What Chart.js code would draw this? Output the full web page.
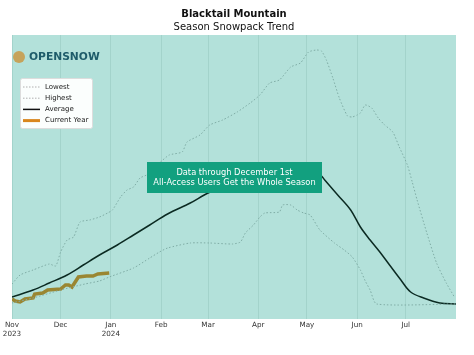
<!DOCTYPE html>
<html>
<head>
<meta charset="utf-8">
<script src="https://cdn.jsdelivr.net/npm/chart.js@4.4.1/dist/chart.umd.min.js"></script>
<style>
  html, body { margin: 0; padding: 0; background: #ffffff; }
  #wrap { width: 474px; height: 355px; position: relative; }
</style>
</head>
<body>
<div id="wrap"><canvas id="c" width="474" height="355"></canvas></div>
<script>
// ---- data (day offsets from Nov 1 2023, snow depth values) ----
const monthTickDays = [0, 30, 61, 92, 121, 152, 182, 213, 243];
const monthTickLabels = [['Nov', '2023'], 'Dec', ['Jan', '2024'], 'Feb', 'Mar', 'Apr', 'May', 'Jun', 'Jul'];

const lowestDays = [0, 13, 30, 45, 54, 60, 75, 85, 91, 96, 110, 122, 136, 141, 144, 149, 153, 156, 165, 167, 172, 176, 180, 184, 190, 199, 205, 210, 215, 218, 221, 225, 274];
const lowestVals = [0.6, 3.6, 8.4, 12, 13.8, 16.2, 21.6, 27.6, 31.2, 33.6, 36.6, 36.6, 36, 37.2, 42.6, 47.4, 52.2, 54.6, 55.2, 59.4, 59.4, 56.4, 54.6, 53.4, 44.4, 36.6, 32.4, 28.2, 20.4, 13.8, 8.4, 0, 0];

const highestDays = [0, 5, 13, 23, 27, 30, 34, 38, 42, 48, 54, 59, 62, 67, 71, 75, 79, 83, 91, 97, 105, 108, 116, 122, 130, 139, 147, 153, 159, 165, 172, 178, 183, 188, 191, 194, 198, 202, 207, 210, 213, 215, 218, 222, 226, 230, 235, 239, 244, 247, 250, 256, 262, 268, 273];
const highestVals = [12, 17.4, 20.4, 24, 22.8, 31.2, 38.4, 40.2, 49.2, 50.4, 52.2, 54.6, 56.4, 64.2, 68.4, 70.2, 75.6, 77.4, 84.6, 89.4, 91.2, 97.2, 101.4, 107.4, 110.4, 115.2, 120.6, 125.4, 132.6, 134.4, 142.2, 144.6, 151.2, 152.4, 151.8, 146.4, 135.6, 123.6, 112.8, 112.2, 113.4, 114.6, 119.4, 117.6, 111.6, 107.4, 103.2, 94.2, 83.4, 73.2, 62.4, 42.6, 24.6, 12.6, 4.2];

const averageDays = [0, 13, 23, 34, 44, 54, 65, 75, 85, 96, 110, 121, 135, 153, 168, 178, 187, 191, 193, 201, 209, 215, 221, 227, 233, 240, 246, 254, 264, 274];
const averageVals = [4.2, 8.4, 12.6, 17.4, 23.4, 29.4, 35.4, 41.4, 47.4, 54, 60.6, 66.6, 72, 79, 83.4, 82.8, 79.8, 76.8, 74.4, 65.4, 56.4, 46.2, 38.4, 31.2, 23.4, 14.4, 7.2, 3.6, 0.6, 0];

const currentDays = [0, 2, 5, 8, 13, 14, 19, 22, 30, 33, 35, 37, 41, 46, 50, 53, 60];
const currentVals = [3, 1.8, 1.2, 3, 3.6, 6, 6.6, 8.4, 9, 11.4, 11.4, 10.2, 16.2, 16.8, 16.8, 18, 18.6];

const seriesNames = ['Lowest', 'Highest', 'Average', 'Current Year'];
const titleText = 'Blacktail Mountain';
const subtitleText = 'Season Snowpack Trend';
const noticeLines = ['Data through December 1st', 'All-Access Users Get the Whole Season'];
const logoText = 'OPENSNOW';

function pts(days, vals) { return days.map((d, i) => ({ x: d, y: vals[i] })); }

const FONT = "'DejaVu Sans', sans-serif";
const DOT = '#80ada6';

const bgPlugin = {
  id: 'plotBg',
  beforeDraw(chart) {
    const { ctx, chartArea: a } = chart;
    ctx.save();
    ctx.fillStyle = '#b3e1da';
    ctx.fillRect(a.left, a.top, a.right - a.left, a.bottom - a.top);
    ctx.restore();
  }
};

const overlayPlugin = {
  id: 'overlay',
  afterDraw(chart) {
    const { ctx, chartArea: a } = chart;
    ctx.save();
    // logo
    const ly = a.top + 22;
    ctx.fillStyle = '#c6a35b';
    ctx.beginPath(); ctx.arc(a.left + 7, ly, 6, 0, Math.PI * 2); ctx.fill();
    ctx.fillStyle = '#1e5c6a';
    ctx.font = 'bold 10.7px ' + FONT;
    ctx.textBaseline = 'middle';
    ctx.textAlign = 'left';
    ctx.fillText(logoText, a.left + 17, ly);

    // legend
    const lx = a.left + 8, ly0 = a.top + 43, lw = 72, lh = 50;
    ctx.fillStyle = 'rgba(255,255,255,0.95)';
    ctx.strokeStyle = '#dddddd';
    ctx.lineWidth = 1;
    ctx.beginPath();
    if (ctx.roundRect) ctx.roundRect(lx + 0.5, ly0 + 0.5, lw, lh, 2); else ctx.rect(lx + 0.5, ly0 + 0.5, lw, lh);
    ctx.fill(); ctx.stroke();
    const styles = [
      { c: '#b0b0b0', w: 1, dash: [1.5, 1.5] },
      { c: '#b0b0b0', w: 1, dash: [1.5, 1.5] },
      { c: '#111111', w: 1.5, dash: [] },
      { c: '#d9861e', w: 3, dash: [] }
    ];
    ctx.font = '7px ' + FONT;
    seriesNames.forEach((n, i) => {
      const y = ly0 + 9 + i * 11.2;
      const s = styles[i];
      ctx.strokeStyle = s.c; ctx.lineWidth = s.w; ctx.setLineDash(s.dash);
      ctx.beginPath(); ctx.moveTo(lx + 3, y); ctx.lineTo(lx + 20, y); ctx.stroke();
      ctx.setLineDash([]);
      ctx.fillStyle = '#222222';
      ctx.fillText(n, lx + 25, y);
    });

    // notice box
    const cx = (a.left + a.right) / 2 + 0.5;
    const bw = 175, bh = 31, by = a.top + 127;
    ctx.fillStyle = '#12a07f';
    ctx.fillRect(cx - bw / 2, by, bw, bh);
    ctx.fillStyle = '#ffffff';
    ctx.textAlign = 'center';
    ctx.font = '8.3px ' + FONT;
    ctx.fillText(noticeLines[0], cx, by + 10.5);
    ctx.fillText(noticeLines[1], cx, by + 21);
    ctx.restore();
  }
};

new Chart(document.getElementById('c'), {
  type: 'line',
  data: {
    datasets: [
      { label: seriesNames[0], data: pts(lowestDays, lowestVals), borderColor: DOT, borderWidth: 1, borderDash: [1.5, 2], pointRadius: 0, tension: 0.2 },
      { label: seriesNames[1], data: pts(highestDays, highestVals), borderColor: DOT, borderWidth: 1, borderDash: [1.5, 2], pointRadius: 0, tension: 0.2 },
      { label: seriesNames[2], data: pts(averageDays, averageVals), borderColor: '#0b2a22', borderWidth: 1.5, pointRadius: 0, tension: 0.35 },
      { label: seriesNames[3], data: pts(currentDays, currentVals), borderColor: '#9a8632', borderWidth: 3.5, pointRadius: 0, tension: 0 }
    ]
  },
  options: {
    responsive: false,
    animation: false,
    layout: { padding: { left: 12, right: 18, top: 0, bottom: 0 } },
    plugins: {
      legend: { display: false },
      tooltip: { enabled: false },
      title: { display: true, text: titleText, color: '#111', font: { family: FONT, size: 10, weight: 'bold' }, padding: { top: 8, bottom: 1 } },
      subtitle: { display: true, text: subtitleText, color: '#111', font: { family: FONT, size: 10 }, padding: { top: 0, bottom: 2 } }
    },
    scales: {
      x: {
        type: 'linear', min: 0, max: 274,
        afterBuildTicks(scale) { scale.ticks = monthTickDays.map(v => ({ value: v })); },
        afterFit(scale) { scale.height = 36; },
        ticks: {
          autoSkip: false, maxRotation: 0, padding: 1, color: '#333',
          font: { family: FONT, size: 7.2, lineHeight: 1.3 },
          callback(v) { const i = monthTickDays.indexOf(v); return i >= 0 ? monthTickLabels[i] : ''; }
        },
        grid: { color: '#a3d3cb', lineWidth: 1, drawTicks: false },
        border: { display: false }
      },
      y: { display: false, min: -9, max: 161.4 }
    }
  },
  plugins: [bgPlugin, overlayPlugin]
});
</script>
</body>
</html>
